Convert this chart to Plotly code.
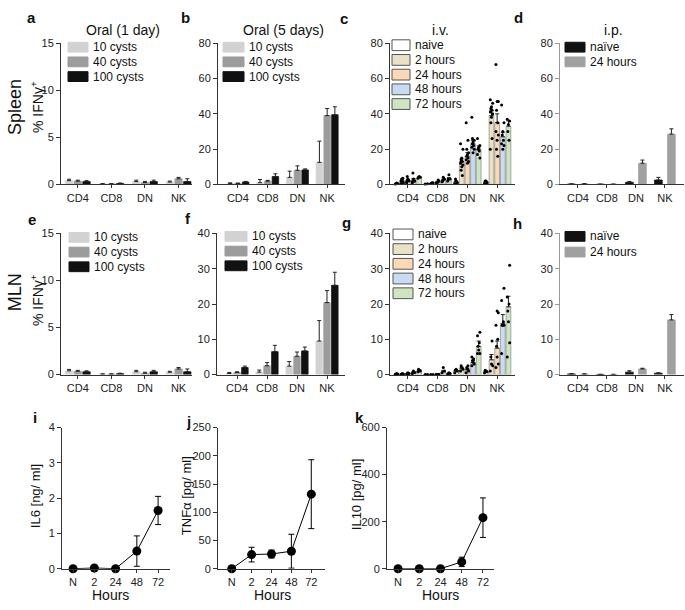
import plotly.graph_objects as go

W, H = 685, 610
FONT = "Arial, Liberation Sans, sans-serif"

# ---------------- data ----------------
cells = ["CD4", "CD8", "DN", "NK"]
cyst_groups = ["10 cysts", "40 cysts", "100 cysts"]
iv_groups = ["naive", "2 hours", "24 hours", "48 hours", "72 hours"]
ip_groups = ["naïve", "24 hours"]
hours = ["N", "2", "24", "48", "72"]

# a: spleen, oral 1 day (rows = cyst groups, cols = cells)
a_mean = [[0.4, 0.05, 0.3, 0.25], [0.35, 0.05, 0.2, 0.6], [0.3, 0.1, 0.3, 0.3]]
a_err = [[0.15, 0.03, 0.15, 0.1], [0.1, 0.03, 0.12, 0.15], [0.1, 0.05, 0.15, 0.3]]
# b: spleen, oral 5 days
b_mean = [[0.5, 1.0, 4.0, 12.5], [0.5, 1.8, 8.0, 39.0], [1.3, 4.5, 8.2, 39.5]]
b_err = [[0.4, 1.8, 3.5, 12.0], [0.3, 0.5, 2.5, 4.0], [0.4, 1.5, 0.6, 4.5]]
# c: spleen, i.v. (rows = time groups)
c_mean = [[0.5, 0.3, 1.5, 1.5], [2.0, 0.8, 13.0, 39.0], [2.3, 1.3, 16.0, 35.0],
          [2.5, 2.5, 23.0, 27.0], [4.0, 3.0, 20.0, 33.0]]
c_err = [[0.2, 0.1, 0.5, 0.4], [0.5, 0.2, 1.5, 3.0], [0.5, 0.3, 2.0, 5.0],
         [0.8, 0.5, 2.0, 2.5], [0.4, 0.8, 1.8, 3.0]]
c_dots = {
    "CD4": [[0.3, 0.5, 0.8], [0.5, 1, 2, 3, 3.5, 2], [1, 2, 3, 4.5, 2.5, 1.5],
            [1, 2, 3, 6.5, 2, 1.5], [3.5, 4, 4.5]],
    "CD8": [[0.2, 0.4], [0.5, 1, 1, 0.5], [1, 2, 1.5, 0.5, 2.5],
            [1.5, 3, 4, 2, 3], [2, 3, 5.5, 3]],
    "DN": [[0.5, 1, 2, 3], [23, 20, 15, 14, 13, 12, 11, 10, 8, 5],
           [35, 18, 17, 16, 15, 14, 13, 12, 20, 25],
           [38, 25, 24, 23, 22, 21, 20, 18, 26], [26, 22, 21, 20, 19, 17, 15]],
    "NK": [[0.5, 1, 2, 2], [48, 46, 44, 43, 42, 41, 40, 38, 35, 26, 20],
           [68, 47, 47, 42, 35, 30, 28, 25, 20, 16],
           [45, 35, 30, 28, 25, 23, 22, 20], [37, 36, 34, 30, 25]],
}
# d: spleen, i.p.
d_mean = [[0.2, 0.1, 1.2, 2.5], [0.3, 0.1, 12.0, 28.5]]
d_err = [[0.1, 0.05, 0.4, 1.5], [0.1, 0.05, 1.8, 3.0]]
# e: MLN, oral 1 day
e_mean = [[0.4, 0.05, 0.3, 0.25], [0.35, 0.05, 0.15, 0.6], [0.3, 0.1, 0.3, 0.3]]
e_err = [[0.15, 0.03, 0.15, 0.1], [0.1, 0.03, 0.1, 0.15], [0.1, 0.05, 0.15, 0.3]]
# f: MLN, oral 5 days
f_mean = [[0.3, 0.7, 2.4, 9.5], [0.6, 2.5, 5.2, 20.4], [2.0, 6.5, 6.7, 25.3]]
f_err = [[0.3, 0.6, 1.3, 5.8], [0.2, 0.9, 1.2, 3.4], [0.4, 1.8, 1.1, 3.7]]
# g: MLN, i.v.
g_mean = [[0.2, 0.05, 1.2, 0.8], [0.2, 0.05, 1.8, 4.2], [0.3, 0.1, 1.5, 7.5],
          [0.6, 0.8, 3.5, 14.5], [1.2, 0.3, 8.0, 19.2]]
g_err = [[0.05, 0.02, 0.2, 0.3], [0.05, 0.02, 0.3, 1.5], [0.1, 0.05, 0.3, 2.0],
         [0.2, 0.4, 0.5, 2.5], [0.2, 0.1, 1.5, 3.0]]
g_dots = {
    "CD4": [[0.1, 0.2, 0.3], [0.1, 0.2, 0.3], [0.2, 0.3, 0.5], [0.3, 0.6, 1.0],
            [0.8, 1.0, 1.2, 1.5]],
    "CD8": [[0.05, 0.05], [0.05, 0.05], [0.1, 0.1], [0.5, 1.0, 2.0], [0.2, 0.3, 0.5]],
    "DN": [[0.5, 1, 1.5, 1.2], [1, 1.5, 2, 2.5], [0.5, 1, 1.5, 2, 2.5],
           [2.5, 3, 3.5, 4, 4.5, 5], [6, 6, 7, 8, 9, 11, 12]],
    "NK": [[0.5, 0.8, 1.0, 1.2], [1, 2.5, 3, 5, 9.5], [2, 3, 5, 8, 10, 14, 17.5, 18],
           [6, 14, 14, 14, 15, 21, 24.5], [5, 9, 15, 18, 20, 22, 31]],
}
# h: MLN, i.p.
h_mean = [[0.2, 0.05, 0.7, 0.4], [0.15, 0.05, 1.6, 15.5]]
h_err = [[0.05, 0.02, 0.4, 0.1], [0.05, 0.02, 0.2, 1.5]]
# i-k: cytokines
il6 = [0.0, 0.02, 0.0, 0.5, 1.65]
il6_err = [0.0, 0.02, 0.0, 0.43, 0.4]
tnf = [0.0, 25.0, 26.0, 31.0, 132.0]
tnf_err = [0.0, 13.0, 7.0, 30.0, 61.0]
il10 = [0.0, 0.0, 0.0, 29.0, 217.0]
il10_err = [0.0, 0.0, 0.0, 20.0, 84.0]

# ---------------- styles ----------------
cyst_colors = ["#d2d2d2", "#9c9c9c", "#111111"]
iv_colors = ["#ffffff", "#e9e2c6", "#fbd8b6", "#c8dbf0", "#cde5c1"]
ip_colors = ["#111111", "#a0a0a0"]
DOT_JIT = [-0.04, 0.04, 0.0, -0.02, 0.02]

fig = go.Figure()
counter = [0]


def add_axes(xpx, ypx, xrange, yrange, yticks, xtickvals, xticktext, linecolor="#333"):
    counter[0] += 1
    n = counter[0]
    suf = "" if n == 1 else str(n)
    tf = dict(family=FONT, size=11, color="#222")
    fig.update_layout(**{
        "xaxis" + suf: dict(domain=[xpx[0] / W, xpx[1] / W], range=xrange, anchor="y" + suf,
                            showline=True, linecolor="#333", linewidth=1, ticks="outside",
                            ticklen=3, tickcolor="#333", tickvals=xtickvals, ticktext=xticktext,
                            showgrid=False, zeroline=False, tickfont=tf, fixedrange=True),
        "yaxis" + suf: dict(domain=[1 - ypx[1] / H, 1 - ypx[0] / H], range=yrange, anchor="x" + suf,
                            showline=True, linecolor=linecolor, linewidth=1, ticks="outside",
                            ticklen=4, tickcolor=linecolor, tickvals=yticks,
                            showgrid=False, zeroline=False, tickfont=tf, fixedrange=True),
    })
    return "x" + suf, "y" + suf


def bar_panel(xa, ya, means, errs, colors, lcolors, spacing, width, dots=None):
    n = len(means)
    for k in range(n):
        xs = [i + (k - (n - 1) / 2) * spacing for i in range(len(cells))]
        fig.add_trace(go.Bar(
            x=xs, y=means[k], width=width, xaxis=xa, yaxis=ya, showlegend=False,
            marker=dict(color=colors[k], line=dict(color=lcolors[k], width=0.7)),
            error_y=dict(type="data", symmetric=False, array=errs[k], arrayminus=[0] * len(cells),
                         color="#222", thickness=1, width=2)))
        if dots:
            dx, dy = [], []
            for i, c in enumerate(cells):
                for j, v in enumerate(dots[c][k]):
                    dx.append(xs[i] + DOT_JIT[j % len(DOT_JIT)])
                    dy.append(v)
            fig.add_trace(go.Scatter(x=dx, y=dy, mode="markers", xaxis=xa, yaxis=ya,
                                     showlegend=False, cliponaxis=False,
                                     marker=dict(color="black", size=3)))


def legend(x0, x1, ys, h, names, fills, lines):
    for y, name, f, l in zip(ys, names, fills, lines):
        fig.add_shape(type="rect", xref="paper", yref="paper", x0=x0 / W, x1=x1 / W,
                      y0=1 - (y + h / 2) / H, y1=1 - (y - h / 2) / H,
                      fillcolor=f, line=dict(color=l, width=1))
        fig.add_annotation(x=(x1 + 3) / W, y=1 - y / H, xref="paper", yref="paper", text=name,
                           showarrow=False, xanchor="left", yanchor="middle",
                           font=dict(family=FONT, size=12, color="#111"))


def text(x, y, s, size=12, bold=False, angle=0, anchor="center"):
    fig.add_annotation(x=x / W, y=1 - y / H, xref="paper", yref="paper",
                       text=("<b>%s</b>" % s) if bold else s, showarrow=False,
                       textangle=angle, xanchor=anchor, yanchor="middle",
                       font=dict(family=FONT, size=size, color="#111"))


ci = list(range(len(cells)))
R1, R2, R3 = (38, 182), (232, 376), (430, 574)
lc_cyst = cyst_colors
lc_iv = ["#555", "#888", "#888", "#888", "#888"]

# Row 1
xa, ya = add_axes((61, 192), R1, [-0.5, 3.4], [0, 15], [0, 5, 10, 15], ci, cells)
bar_panel(xa, ya, a_mean, a_err, cyst_colors, lc_cyst, 0.26, 0.22)
xa, ya = add_axes((218, 345), R1, [-0.67, 3.6], [0, 80], [0, 20, 40, 60, 80], ci, cells)
bar_panel(xa, ya, b_mean, b_err, cyst_colors, lc_cyst, 0.26, 0.22)
xa, ya = add_axes((390, 515), R1, [-0.6, 3.6], [0, 80], [0, 20, 40, 60, 80], ci, cells)
bar_panel(xa, ya, c_mean, c_err, iv_colors, lc_iv, 0.19, 0.16, c_dots)
xa, ya = add_axes((560, 684), R1, [-0.62, 3.66], [0, 80], [0, 20, 40, 60, 80], ci, cells, "#999")
bar_panel(xa, ya, d_mean, d_err, ip_colors, ip_colors, 0.45, 0.27)

# Row 2
xa, ya = add_axes((61, 192), R2, [-0.5, 3.4], [0, 15], [0, 5, 10, 15], ci, cells)
bar_panel(xa, ya, e_mean, e_err, cyst_colors, lc_cyst, 0.26, 0.22)
xa, ya = add_axes((217, 345), R2, [-0.67, 3.6], [0, 40], [0, 10, 20, 30, 40], ci, cells)
bar_panel(xa, ya, f_mean, f_err, cyst_colors, lc_cyst, 0.26, 0.22)
xa, ya = add_axes((390, 515), R2, [-0.6, 3.6], [0, 40], [0, 10, 20, 30, 40], ci, cells)
bar_panel(xa, ya, g_mean, g_err, iv_colors, lc_iv, 0.19, 0.16, g_dots)
xa, ya = add_axes((560, 684), R2, [-0.62, 3.66], [0, 40], [0, 10, 20, 30, 40], ci, cells, "#999")
bar_panel(xa, ya, h_mean, h_err, ip_colors, ip_colors, 0.45, 0.27)

# Row 3
hi = list(range(len(hours)))
for xpx, xr, yr, yt, vals, errs in [
    ((62, 170), [-0.52, 4.56], [0, 4], [0, 1, 2, 3, 4], il6, il6_err),
    ((218, 325), [-0.69, 4.69], [0, 250], [0, 50, 100, 150, 200, 250], tnf, tnf_err),
    ((387, 494), [-0.52, 4.52], [0, 600], [0, 200, 400, 600], il10, il10_err),
]:
    xa, ya = add_axes(xpx, R3, xr, yr, yt, hi, hours)
    fig.add_trace(go.Scatter(
        x=hi, y=vals, mode="lines+markers", xaxis=xa, yaxis=ya, showlegend=False,
        cliponaxis=False, line=dict(color="black", width=1),
        marker=dict(color="black", size=9),
        error_y=dict(type="data", array=errs, color="black", thickness=1, width=3)))

# Legends
legend(68, 88, [42, 57, 72], 10, cyst_groups, cyst_colors, cyst_colors)
legend(223, 244, [42, 57, 72], 10, cyst_groups, cyst_colors, cyst_colors)
legend(392, 410, [40, 55, 70, 85, 100], 11, iv_groups, iv_colors, ["#555"] * 5)
legend(565, 585, [42, 57], 10, ip_groups, ip_colors, ip_colors)
legend(69, 89, [236, 251, 266], 10, cyst_groups, cyst_colors, cyst_colors)
legend(225, 247, [235, 250, 265], 10, cyst_groups, cyst_colors, cyst_colors)
legend(393, 413, [233, 248, 263, 278, 293], 11, iv_groups, iv_colors, ["#555"] * 5)
legend(565, 585, [235, 251], 10, ip_groups, ip_colors, ip_colors)

# Panel letters
for s, x, y in [("a", 32, 12), ("b", 185, 12), ("c", 344, 13), ("d", 518, 12),
                ("e", 32, 218), ("f", 188, 217), ("g", 346, 221), ("h", 517, 222),
                ("i", 35, 420), ("j", 188, 424), ("k", 359, 420)]:
    text(x, y, s, size=15, bold=True)

# Titles
text(123, 24, "Oral (1 day)", 14)
text(283, 24, "Oral (5 days)", 14)
text(440, 24, "i.v.", 14)
text(613, 24, "i.p.", 14)

# Row labels and axis titles
text(15, 103, "Spleen", 18, angle=-90)
text(15, 292, "MLN", 18, angle=-90)
text(37, 103, "% IFNγ<sup>+</sup>", 14, angle=-90)
text(37, 300, "% IFNγ<sup>+</sup>", 14, angle=-90)
text(35, 500, "IL6 [ng/ ml]", 13, angle=-90)
text(186, 500, "TNFα [pg/ ml]", 13, angle=-90)
text(356, 498, "IL10 [pg/ ml]", 13, angle=-90)
text(110, 601, "Hours", 14)
text(272, 601, "Hours", 14)
text(440, 601, "Hours", 14)

fig.update_layout(width=W, height=H, margin=dict(l=0, r=0, t=0, b=0),
                  paper_bgcolor="white", plot_bgcolor="white", barmode="overlay",
                  font=dict(family=FONT, color="#111"))
fig.write_html("out.html", config={"displayModeBar": False},
               post_script="document.body.style.margin='0';document.body.style.overflow='hidden';")
